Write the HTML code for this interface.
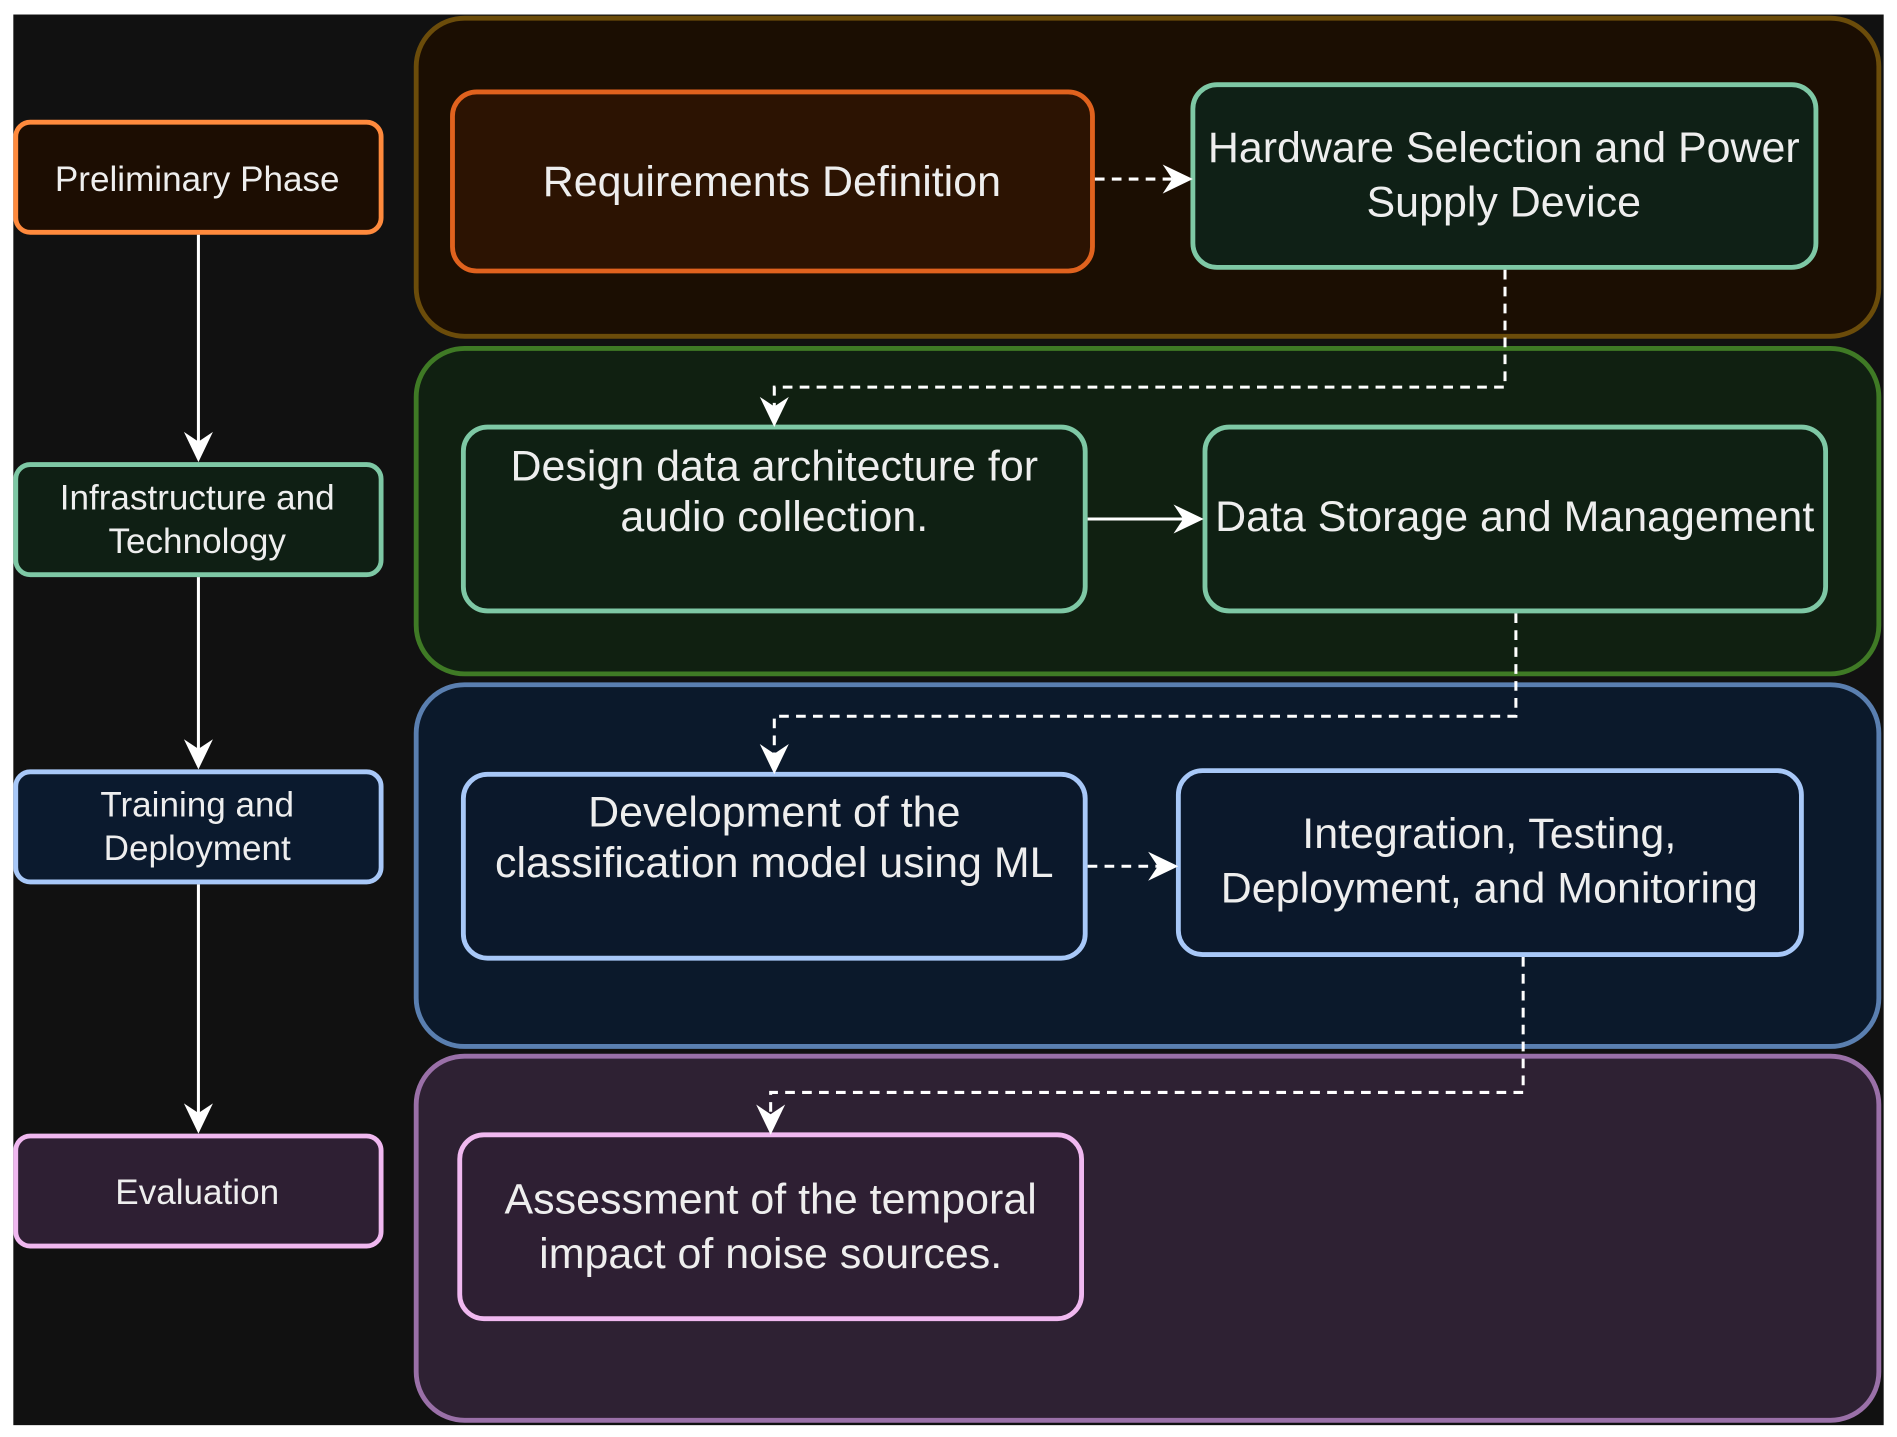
<!DOCTYPE html>
<html><head><meta charset="utf-8"><style>html,body{margin:0;padding:0;background:#fff}svg{display:block}</style></head>
<body>
<svg width="1897" height="1437" viewBox="0 0 1568 1187.8" xmlns="http://www.w3.org/2000/svg" font-family="Liberation Sans, Arial, sans-serif">
<rect x="0" y="0" width="1568" height="1188" fill="#fff"/>
<rect x="11" y="12" width="1546" height="1166" fill="#111111"/>

<rect x="344" y="15" width="1209" height="263" rx="40" fill="#1b0e02" stroke="#6b4c0a" stroke-width="4"/>
<rect x="344" y="288" width="1209" height="269" rx="40" fill="#102011" stroke="#3f7a25" stroke-width="4"/>
<rect x="344" y="566" width="1209" height="299" rx="40" fill="#0b192b" stroke="#5a7fb0" stroke-width="4"/>
<rect x="344" y="873" width="1209" height="301" rx="40" fill="#2e2133" stroke="#9a70a8" stroke-width="4"/>

<g stroke-width="4">
<rect x="13" y="101" width="302" height="91" rx="12" fill="#1c0d02" stroke="#ff8a3d"/>
<rect x="13" y="384" width="302" height="91" rx="12" fill="#0f1f14" stroke="#7ec8a5"/>
<rect x="13" y="638" width="302" height="91" rx="12" fill="#0b1a2e" stroke="#a8c8f8"/>
<rect x="13" y="939" width="302" height="91" rx="12" fill="#2e1f33" stroke="#f0b8f0"/>
</g>
<g fill="#eee" font-size="29" text-anchor="middle">
<text x="163" y="158">Preliminary Phase</text>
<text x="163" y="421">Infrastructure and</text>
<text x="163" y="457">Technology</text>
<text x="163" y="675">Training and</text>
<text x="163" y="711">Deployment</text>
<text x="163" y="995">Evaluation</text>
</g>
<g stroke="#fff" stroke-width="2.5" fill="#fff">
<line x1="164" y1="194" x2="164" y2="375"/>
<line x1="164" y1="477" x2="164" y2="630"/>
<line x1="164" y1="731" x2="164" y2="931"/>
</g>
<g fill="#fff">
<path d="M152 357 L164 382 L176 357 L164 365 Z"/>
<path d="M152 611 L164 636 L176 611 L164 619 Z"/>
<path d="M152 912 L164 937 L176 912 L164 920 Z"/>
</g>

<g stroke-width="4">
<rect x="374" y="76" width="529" height="148" rx="20" fill="#2c1302" stroke="#e0621e"/>
<rect x="986" y="70" width="515" height="151" rx="20" fill="#0f2016" stroke="#7ec8a5"/>
<rect x="383" y="353" width="514" height="152" rx="20" fill="#0f2013" stroke="#7ec8a5"/>
<rect x="996" y="353" width="513" height="152" rx="20" fill="#0f2013" stroke="#7ec8a5"/>
<rect x="383" y="640" width="514" height="152" rx="20" fill="#0b182b" stroke="#a8c8f8"/>
<rect x="974" y="637" width="515" height="152" rx="20" fill="#0b182b" stroke="#a8c8f8"/>
<rect x="380" y="938" width="514" height="152" rx="20" fill="#2e1f33" stroke="#f0b8f0"/>
</g>
<g fill="#eee" font-size="35.5" text-anchor="middle">
<text x="638" y="162">Requirements Definition</text>
<text x="1243" y="134">Hardware Selection and Power</text>
<text x="1243" y="179">Supply Device</text>
<text x="640" y="397">Design data architecture for</text>
<text x="640" y="439">audio collection.</text>
<text x="1252" y="439">Data Storage and Management</text>
<text x="640" y="683">Development of the</text>
<text x="640" y="725">classification model using ML</text>
<text x="1231" y="701">Integration, Testing,</text>
<text x="1231" y="746">Deployment, and Monitoring</text>
<text x="637" y="1003">Assessment of the temporal</text>
<text x="637" y="1048">impact of noise sources.</text>
</g>

<g stroke="#fff" stroke-width="2.5" fill="none" stroke-dasharray="8 6">
<line x1="905" y1="148" x2="976" y2="148"/>
<polyline points="1244,223 1244,320 640,320 640,342"/>
<polyline points="1253,507 1253,592 640,592 640,629"/>
<line x1="899" y1="716" x2="965" y2="716"/>
<polyline points="1259,791 1259,903 637,903 637,929"/>
</g>
<line x1="899" y1="429" x2="988" y2="429" stroke="#fff" stroke-width="2.5"/>
<g fill="#fff">
<path d="M961 136 L986 148 L961 160 L969 148 Z"/>
<path d="M970 417 L995 429 L970 441 L978 429 Z"/>
<path d="M949 704 L974 716 L949 728 L957 716 Z"/>
<path d="M628 328 L640 353 L652 328 L640 336 Z"/>
<path d="M628 615 L640 640 L652 615 L640 623 Z"/>
<path d="M625 913 L637 938 L649 913 L637 921 Z"/>
</g>
</svg>
</body></html>
